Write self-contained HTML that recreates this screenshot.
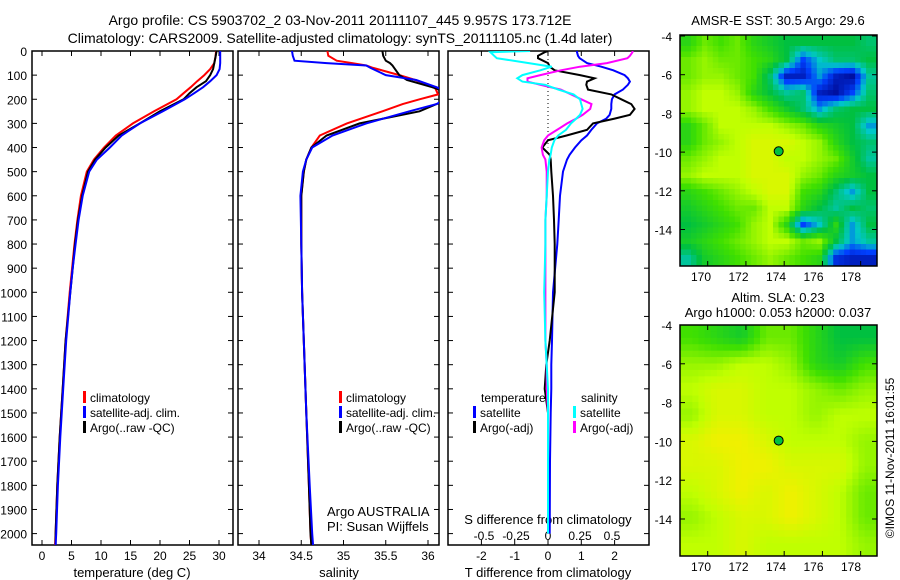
<!DOCTYPE html>
<html><head><meta charset="utf-8"><style>
html,body{margin:0;padding:0;background:#fff;}
svg{display:block;font-family:"Liberation Sans",sans-serif;}
text{font-size:13px;fill:#000;}
</style></head><body>
<svg id="chart" width="900" height="580" viewBox="0 0 900 580">
<text x="340" y="25" text-anchor="middle" style="font-size:14px">Argo profile: CS 5903702_2 03-Nov-2011 20111107_445 9.957S 173.712E</text>
<text x="340" y="43" text-anchor="middle" style="font-size:14px">Climatology: CARS2009. Satellite-adjusted climatology: synTS_20111105.nc (1.4d later)</text>
<text x="778" y="25" text-anchor="middle">AMSR-E SST: 30.5 Argo: 29.6</text>
<text x="778" y="302" text-anchor="middle">Altim. SLA: 0.23</text>
<text x="778" y="317" text-anchor="middle">Argo h1000: 0.053 h2000: 0.037</text>
<text transform="translate(894,458) rotate(-90)" text-anchor="middle" style="font-size:12px">©IMOS 11-Nov-2011 16:01:55</text>
<g id="g"></g>
</svg>
<script>
// ---- data ----
const tDepth=[0,25,50,75,100,125,150,175,200,250,300,350,400,450,500,600,700,800,900,1000,1200,1400,1600,1800,2000,2050];
const tClim=[29.5,29.4,29.2,28.5,27.5,26.3,25.2,24,22.8,19,15.4,12.5,10.5,8.8,7.6,6.6,6.0,5.5,5.1,4.7,4.0,3.5,3.0,2.6,2.3,2.2];
const tSat=[30.2,30.2,30.2,30.1,29.6,28.5,27.3,25.8,24.2,20.5,16.6,13.5,11.5,9.3,8.0,6.9,6.2,5.7,5.2,4.8,4.1,3.6,3.1,2.7,2.4,2.3];
const tArgo=[29.6,29.4,29.2,29,28.5,27.8,26.2,25,24,20,16.6,13,10.8,9,7.8,6.8,6.1,5.6,5.2,4.8,4.0,3.5,3.0,2.6,2.3,2.3];
const sDepth=[0,20,40,50,60,70,100,120,150,180,200,220,250,300,350,400,450,500,600,800,1000,1200,1500,1800,2000,2050];
const sClim=[34.81,34.82,34.92,35.1,35.27,35.35,35.66,35.85,36.08,36.12,35.9,35.7,35.46,35.04,34.72,34.62,34.56,34.53,34.5,34.5,34.51,34.53,34.56,34.59,34.61,34.62];
const sSat=[34.39,34.4,34.42,34.8,35.27,35.32,35.5,35.86,36.1,36.3,36.2,36.1,35.78,35.27,34.87,34.63,34.56,34.52,34.49,34.5,34.51,34.53,34.56,34.6,34.63,34.64];
const sArgo=[35.46,35.47,35.5,35.55,35.58,35.6,35.66,35.75,36.05,36.3,36.25,36.1,35.9,35.19,34.8,34.62,34.56,34.53,34.5,34.5,34.51,34.53,34.56,34.59,34.61,34.62];
const dDepth=[0,5,20,30,50,65,80,100,113,127,140,160,180,200,220,240,265,280,300,327,350,370,400,430,450,500,600,700,800,1000,1200,1300,1400,1500,1700,2000];
const dTsat=[0.87,0.87,0.9,0.95,1.17,1.6,1.96,2.3,2.4,2.46,2.4,2.25,2.0,1.92,1.9,1.9,1.85,1.75,1.47,1.3,1.17,1.0,0.81,0.65,0.57,0.45,0.36,0.32,0.28,0.15,0.12,0.1,0.1,0.08,0.06,0.05];
const dTargo=[0,-0.1,-0.3,-0.3,0.0,0.05,0.2,0.96,1.4,1.17,1.15,1.2,1.9,2.2,2.5,2.6,2.46,2.0,1.35,1.17,0.56,0.0,-0.17,0.05,0.08,0.1,0.15,0.18,0.2,0.2,0.05,-0.05,-0.1,0.0,0.0,0.0];
const dSargo=[0.66,0.66,0.64,0.62,0.46,0.25,0.1,-0.06,-0.16,-0.16,-0.06,0.1,0.18,0.26,0.34,0.33,0.27,0.22,0.15,0.07,0.0,-0.03,-0.05,-0.04,-0.02,-0.01,-0.01,-0.02,-0.02,-0.02,-0.02,-0.01,-0.01,0,0,0];
const dSsat=[-0.14,-0.45,-0.42,-0.4,-0.15,0.03,-0.06,-0.2,-0.24,-0.2,-0.02,0.08,0.2,0.25,0.26,0.27,0.25,0.22,0.18,0.14,0.08,0.05,0.03,0.02,0.01,0,-0.01,-0.02,-0.02,-0.03,-0.02,-0.01,0,0,0,0];
const depthTicks=[0,100,200,300,400,500,600,700,800,900,1000,1100,1200,1300,1400,1500,1600,1700,1800,1900,2000];
const tTicks=[0,5,10,15,20,25,30];
const sTicks=[34,34.5,35,35.5,36];
const dtTicks=[-2,-1,0,1,2];
const dsTicks=[-0.5,-0.25,0,0.25,0.5];
const dsTickLabels=["-0.5","-0.25","0","0.25","0.5"];
const sstGrid=[
[0.6,0.7,0.65,0.7,0.6,0.55,0.5,0.5,0.5,0.5,0.5,0.45],
[0.7,0.75,0.7,0.7,0.65,0.6,0.5,0.2,0.35,0.45,0.45,0.5],
[0.7,0.75,0.75,0.7,0.65,0.45,0.1,0.1,0.3,0.1,0.05,0.4],
[0.75,0.8,0.8,0.75,0.6,0.5,0.4,0.45,0.1,0.05,0.2,0.45],
[0.75,0.8,0.8,0.8,0.75,0.65,0.55,0.45,0.3,0.45,0.5,0.5],
[0.6,0.7,0.8,0.8,0.8,0.8,0.75,0.7,0.6,0.55,0.5,0.3],
[0.6,0.7,0.75,0.8,0.85,0.85,0.85,0.8,0.75,0.6,0.5,0.45],
[0.7,0.75,0.8,0.8,0.85,0.85,0.8,0.8,0.75,0.7,0.55,0.4],
[0.75,0.8,0.8,0.8,0.85,0.85,0.85,0.75,0.7,0.6,0.55,0.5],
[0.6,0.65,0.7,0.75,0.8,0.85,0.85,0.65,0.6,0.45,0.3,0.5],
[0.55,0.6,0.65,0.7,0.7,0.8,0.8,0.6,0.5,0.4,0.5,0.45],
[0.5,0.55,0.6,0.65,0.75,0.8,0.6,0.2,0.35,0.6,0.3,0.5],
[0.55,0.6,0.65,0.7,0.75,0.8,0.8,0.7,0.75,0.5,0.3,0.4],
[0.4,0.55,0.6,0.65,0.7,0.75,0.7,0.65,0.6,0.15,0.1,0.1]];
const slaGrid=[
[0.65,0.6,0.55,0.7,0.7,0.6,0.5,0.5],
[0.75,0.75,0.8,0.8,0.75,0.6,0.55,0.65],
[0.8,0.85,0.85,0.8,0.8,0.75,0.7,0.75],
[0.75,0.85,0.85,0.8,0.8,0.75,0.8,0.8],
[0.85,0.9,0.9,0.85,0.8,0.8,0.8,0.75],
[0.85,0.85,0.9,0.9,0.85,0.85,0.85,0.75],
[0.8,0.85,0.9,0.85,0.9,0.85,0.8,0.7],
[0.75,0.8,0.85,0.85,0.9,0.85,0.8,0.7],
[0.8,0.8,0.85,0.8,0.8,0.8,0.8,0.75]];
const lonTicks=[170,172,174,176,178];
const latTicks=[-4,-6,-8,-10,-12,-14];
const argoLon=[173.712];
const argoLat=[-9.957];

// ---- helpers ----
const NS="http://www.w3.org/2000/svg";
const G=document.getElementById('g');
function el(tag,attrs,parent){const e=document.createElementNS(NS,tag);for(const k in attrs)e.setAttribute(k,attrs[k]);(parent||G).appendChild(e);return e;}
const TOP=51,BOT=545;
const yD=d=>TOP+d*0.2413;
const panels=[{x0:32,x1:233},{x0:238,x1:439},{x0:448,x1:649}];
const xT=v=>42+5.9*v, xS=v=>259+84.5*(v-34), xDT=v=>548+33.3*v, xDS=v=>548+128*v;
const defs=el('defs',{});
panels.forEach((p,i)=>{const c=el('clipPath',{id:'clip'+i},defs);el('rect',{x:p.x0,y:TOP,width:p.x1-p.x0,height:BOT-TOP},c);});

function line(depths,vals,xf,color,clip,name){
  const pts=depths.map((d,i)=>xf(vals[i]).toFixed(1)+','+yD(d).toFixed(1)).join(' ');
  const e=el('polyline',{points:pts,fill:'none',stroke:color,'stroke-width':2,'clip-path':'url(#clip'+clip+')'});
  
  
}
function txt(x,y,s,anchor,name,size){const e=el('text',{x:x,y:y,'text-anchor':anchor||'start'});if(size)e.style.fontSize=size+'px';e.textContent=s;
  
  return e;}

panels.forEach((p,i)=>{
  const f=el('rect',{x:p.x0,y:TOP,width:p.x1-p.x0,height:BOT-TOP,fill:'none',stroke:'#000','stroke-width':1.5});
  
  
  depthTicks.forEach(d=>{const y=yD(d);
    el('line',{x1:p.x0,x2:p.x0+5,y1:y,y2:y,stroke:'#000'});
    el('line',{x1:p.x1-5,x2:p.x1,y1:y,y2:y,stroke:'#000'});});
});
depthTicks.forEach(d=>txt(27,yD(d)+5,String(d),'end','depth-tick-label',12));
tTicks.forEach(v=>{const x=xT(v);el('line',{x1:x,x2:x,y1:BOT,y2:BOT-5,stroke:'#000'});el('line',{x1:x,x2:x,y1:TOP,y2:TOP+5,stroke:'#000'});txt(x,560,String(v),'middle','temperature-tick-label',12);});
sTicks.forEach(v=>{const x=xS(v);el('line',{x1:x,x2:x,y1:BOT,y2:BOT-5,stroke:'#000'});el('line',{x1:x,x2:x,y1:TOP,y2:TOP+5,stroke:'#000'});txt(x,560,String(v),'middle','salinity-tick-label',12);});
dtTicks.forEach(v=>{const x=xDT(v);el('line',{x1:x,x2:x,y1:BOT,y2:BOT-5,stroke:'#000'});el('line',{x1:x,x2:x,y1:TOP,y2:TOP+5,stroke:'#000'});txt(x,560,String(v),'middle','t-diff-tick-label',12);});
dsTicks.forEach((v,i)=>txt(xDS(v),540,dsTickLabels[i],'middle','s-diff-tick-label',12));
txt(132,577,'temperature (deg C)','middle','x-axis-title-temperature');
txt(339,577,'salinity','middle','x-axis-title-salinity');
txt(548,577,'T difference from climatology','middle','x-axis-title-t-diff');
txt(548,524,'S difference from climatology','middle','s-diff-axis-title');
txt(327,516,'Argo AUSTRALIA','start','argo-australia-label');
txt(327,531,'PI: Susan Wijffels','start','pi-label');
el('line',{x1:548,x2:548,y1:TOP,y2:yD(400),stroke:'#000','stroke-dasharray':'1,3'});

line(tDepth,tClim,xT,'#ff0000',0,'temperature-climatology-line');
line(tDepth,tArgo,xT,'#000000',0,'temperature-argo-line');
line(tDepth,tSat,xT,'#0000ff',0,'temperature-satellite-line');
line(sDepth,sClim,xS,'#ff0000',1,'salinity-climatology-line');
line(sDepth,sArgo,xS,'#000000',1,'salinity-argo-line');
line(sDepth,sSat,xS,'#0000ff',1,'salinity-satellite-line');
line(dDepth,dTsat,xDT,'#0000ff',2,'t-diff-satellite-line');
line(dDepth,dTargo,xDT,'#000000',2,'t-diff-argo-line');
line(dDepth,dSargo,xDS,'#ff00ff',2,'s-diff-argo-line');
line(dDepth,dSsat,xDS,'#00ffff',2,'s-diff-satellite-line');

function legItem(x,y,color,label,name){
  const g=el('g',{});
  el('rect',{x:x,y:y-11,width:3,height:12,fill:color},g);
  const t=el('text',{x:x+7,y:y},g);t.style.fontSize='12px';t.textContent=label;
  if(label.length>15)t.setAttribute('textLength','90');}
[[83,'panel1'],[339,'panel2']].forEach(([x,n])=>{
  legItem(x,402,'#ff0000','climatology',n+'-legend-climatology');
  legItem(x,417,'#0000ff','satellite-adj. clim.',n+'-legend-satellite');
  legItem(x,432,'#000000','Argo(..raw -QC)',n+'-legend-argo');});
txt(481,402,'temperature','start','legend-temperature-header',12);
legItem(473,417,'#0000ff','satellite','legend-t-satellite');
legItem(473,432,'#000000','Argo(-adj)','legend-t-argo');
txt(581,402,'salinity','start','legend-salinity-header',12);
legItem(573,417,'#00ffff','satellite','legend-s-satellite');
legItem(573,432,'#ff00ff','Argo(-adj)','legend-s-argo');

// maps
const stops=[[0,[0,0,128]],[0.2,[0,64,255]],[0.35,[0,200,200]],[0.5,[0,192,64]],[0.65,[64,224,0]],[0.8,[192,255,0]],[0.9,[240,240,0]],[1,[255,208,0]]];
function cmap(v){for(let i=1;i<stops.length;i++){if(v<=stops[i][0]){const a=stops[i-1],b=stops[i],t=(v-a[0])/(b[0]-a[0]);return 'rgb('+a[1].map((c,k)=>Math.round(c+(b[1][k]-c)*t)).join(',')+')';}}return 'rgb(255,208,0)';}
function sample(grid,fy,fx){ // bilinear in grid-cell index space
  const R=grid.length,C=grid[0].length;
  const y=Math.max(0,Math.min(R-1,fy)),x=Math.max(0,Math.min(C-1,fx));
  const y0=Math.floor(y),x0=Math.floor(x),y1=Math.min(R-1,y0+1),x1=Math.min(C-1,x0+1),ty=y-y0,tx=x-x0;
  return grid[y0][x0]*(1-ty)*(1-tx)+grid[y0][x1]*(1-ty)*tx+grid[y1][x0]*ty*(1-tx)+grid[y1][x1]*ty*tx;}
const lonX=l=>707.7+(l-170)*19.12;
function drawMap(grid,top,bot,name,sub){
  const left=680,right=877;
  const latY=la=>(name==='sst-map'?36:325)+(-4-la)*(name==='sst-map'?19.35:19.4);
  const g=el('g',{});
  const rows=grid.length*sub,cols=grid[0].length*sub,cw=(right-left)/cols,ch=(bot-top)/rows;
  for(let ri=0;ri<rows;ri++)for(let ci=0;ci<cols;ci++){
    const v=sample(grid,(ri+0.5)/sub-0.5,(ci+0.5)/sub-0.5);
    const c=el('rect',{x:left+ci*cw,y:top+ri*ch,width:cw+0.5,height:ch+0.5,fill:cmap(v)},g);
    
    }
  el('rect',{x:left,y:top,width:right-left,height:bot-top,fill:'none',stroke:'#000','stroke-width':1.5});
  lonTicks.forEach((l,i)=>{const x=lonX(l);el('line',{x1:x,x2:x,y1:top,y2:top+5,stroke:'#000'});el('line',{x1:x,x2:x,y1:bot,y2:bot-5,stroke:'#000'});
    txt(701+37.5*i,bot+15,String(l),'middle',name+'-lon-label',12);});
  latTicks.forEach(la=>{const y=latY(la);el('line',{x1:right,x2:right-5,y1:y,y2:y,stroke:'#000'});el('line',{x1:left,x2:left+5,y1:y,y2:y,stroke:'#000'});
    txt(672,y+5,String(la),'end',name+'-lat-label',12);});
  const m=el('circle',{cx:lonX(argoLon[0]),cy:latY(argoLat[0]),r:4.5,fill:'#00c040',stroke:'#000','stroke-width':1});
  
  
}
drawMap(sstGrid,35,266,'sst-map',3);
drawMap(slaGrid,325,556,'sla-map',4);
</script>
</body></html>
